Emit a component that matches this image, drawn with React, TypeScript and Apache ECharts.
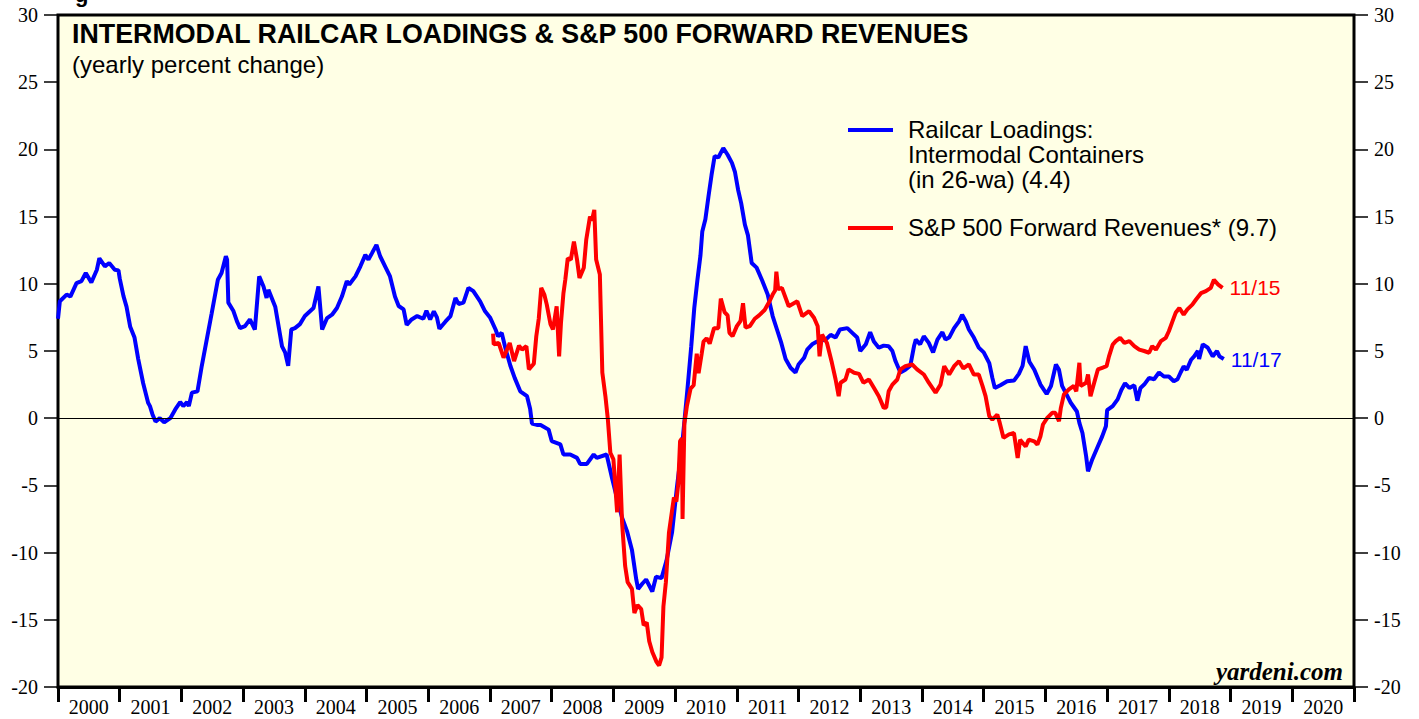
import React, { useEffect, useRef } from "react";
import * as echarts from "echarts";

const YEAR_LABELS = ["2000","2001","2002","2003","2004","2005","2006","2007","2008","2009","2010","2011","2012","2013","2014","2015","2016","2017","2018","2019","2020"];
const X_MIN = 2000;
const X_MAX = 2021;
const Y_MIN = -20;
const Y_MAX = 30;
const Y_STEP = 5;

const RAIL_NAME = "Railcar Loadings: Intermodal Containers (in 26-wa) (4.4)";
const REV_NAME = "S&P 500 Forward Revenues* (9.7)";
const RAIL_END = "11/17";
const REV_END = "11/15";

// Railcar loadings, intermodal containers (26-wa, yearly % change): [year, value]
const RAIL: [number, number][] = [
  [2000.0, 7.4], [2000.03, 8.7], [2000.14, 9.2], [2000.2, 9.05], [2000.3, 10.05], [2000.38, 10.2],
  [2000.45, 10.8], [2000.54, 10.1], [2000.63, 11.05], [2000.67, 11.9], [2000.76, 11.3], [2000.83, 11.55],
  [2000.92, 11.05], [2000.98, 11.0], [2001.0, 10.4], [2001.06, 9.1], [2001.11, 8.3], [2001.17, 6.8],
  [2001.24, 6.0], [2001.3, 4.4], [2001.38, 2.6], [2001.46, 1.15], [2001.49, 0.9], [2001.53, 0.3],
  [2001.58, -0.25], [2001.65, 0.0], [2001.72, -0.3], [2001.82, 0.0], [2001.9, 0.65], [2001.98, 1.2],
  [2002.03, 0.9], [2002.09, 1.2], [2002.12, 0.9], [2002.17, 1.9], [2002.26, 2.0], [2002.33, 3.9],
  [2002.41, 5.85], [2002.49, 7.8], [2002.59, 10.3], [2002.65, 10.8], [2002.72, 12.05], [2002.74, 11.8],
  [2002.76, 8.6], [2002.84, 8.0], [2002.9, 7.2], [2002.95, 6.7], [2003.03, 6.85], [2003.11, 7.35],
  [2003.19, 6.6], [2003.26, 10.55], [2003.33, 9.8], [2003.38, 8.95], [2003.41, 9.55], [2003.52, 8.3],
  [2003.63, 5.35], [2003.68, 4.9], [2003.73, 3.9], [2003.78, 6.6], [2003.84, 6.7], [2003.92, 7.0],
  [2004.0, 7.6], [2004.14, 8.2], [2004.22, 9.8], [2004.28, 6.6], [2004.36, 7.45], [2004.44, 7.7],
  [2004.52, 8.2], [2004.6, 9.05], [2004.68, 10.2], [2004.72, 9.95], [2004.82, 10.55], [2004.9, 11.3],
  [2004.98, 12.15], [2005.03, 11.8], [2005.09, 12.3], [2005.16, 12.9], [2005.22, 12.05], [2005.3, 11.3],
  [2005.38, 10.55], [2005.46, 9.05], [2005.52, 8.35], [2005.6, 8.1], [2005.65, 6.95], [2005.73, 7.35],
  [2005.82, 7.6], [2005.92, 7.4], [2005.97, 8.0], [2006.03, 7.35], [2006.09, 7.95], [2006.14, 7.5],
  [2006.18, 6.65], [2006.28, 7.2], [2006.36, 7.6], [2006.44, 8.95], [2006.49, 8.5], [2006.57, 8.6],
  [2006.65, 9.7], [2006.73, 9.45], [2006.84, 8.7], [2006.92, 7.95], [2007.0, 7.5], [2007.09, 6.6],
  [2007.13, 6.1], [2007.19, 6.35], [2007.25, 5.2], [2007.33, 3.9], [2007.4, 3.0], [2007.49, 2.0],
  [2007.6, 1.64], [2007.65, 0.7], [2007.68, -0.4], [2007.76, -0.5], [2007.82, -0.5], [2007.95, -0.85],
  [2008.0, -1.7], [2008.14, -1.95], [2008.19, -2.7], [2008.3, -2.7], [2008.41, -2.95], [2008.46, -3.4],
  [2008.57, -3.4], [2008.68, -2.7], [2008.73, -2.95], [2008.89, -2.7], [2008.98, -4.5], [2009.06, -6.0],
  [2009.14, -7.4], [2009.22, -8.4], [2009.3, -9.8], [2009.37, -12.0], [2009.4, -12.7], [2009.47, -12.3],
  [2009.53, -12.0], [2009.63, -12.9], [2009.69, -11.8], [2009.78, -11.9], [2009.86, -10.6], [2009.95, -8.5],
  [2010.03, -5.1], [2010.12, -1.7], [2010.2, 2.2], [2010.26, 5.3], [2010.31, 8.2], [2010.36, 10.25],
  [2010.41, 12.1], [2010.44, 13.9], [2010.49, 14.8], [2010.54, 16.5], [2010.59, 18.1], [2010.64, 19.5],
  [2010.7, 19.4], [2010.78, 20.1], [2010.85, 19.6], [2010.92, 19.0], [2010.97, 18.3], [2011.02, 17.0],
  [2011.07, 16.0], [2011.13, 14.4], [2011.18, 13.6], [2011.24, 11.55], [2011.32, 11.2], [2011.41, 10.25],
  [2011.5, 9.2], [2011.58, 7.6], [2011.65, 6.6], [2011.72, 5.6], [2011.79, 4.4], [2011.87, 3.75],
  [2011.95, 3.4], [2012.0, 4.0], [2012.09, 4.5], [2012.14, 5.1], [2012.22, 5.5], [2012.3, 5.7],
  [2012.44, 5.85], [2012.52, 6.2], [2012.6, 6.0], [2012.67, 6.6], [2012.79, 6.7], [2012.87, 6.35],
  [2012.95, 6.0], [2013.0, 5.0], [2013.09, 5.5], [2013.16, 6.4], [2013.22, 5.7], [2013.3, 5.25],
  [2013.38, 5.4], [2013.46, 5.35], [2013.52, 5.0], [2013.57, 4.25], [2013.65, 3.4], [2013.73, 3.6],
  [2013.81, 3.9], [2013.87, 5.35], [2013.9, 5.85], [2013.97, 5.5], [2014.03, 6.1], [2014.11, 5.6],
  [2014.18, 4.9], [2014.25, 5.85], [2014.33, 6.4], [2014.38, 5.85], [2014.44, 6.0], [2014.52, 6.7],
  [2014.6, 7.2], [2014.65, 7.7], [2014.71, 7.2], [2014.76, 6.6], [2014.84, 6.0], [2014.92, 5.25],
  [2015.0, 4.9], [2015.09, 4.1], [2015.14, 3.0], [2015.18, 2.25], [2015.27, 2.45], [2015.38, 2.75],
  [2015.49, 2.8], [2015.57, 3.3], [2015.63, 3.9], [2015.68, 5.36], [2015.74, 4.2], [2015.82, 3.6],
  [2015.92, 2.5], [2016.02, 1.8], [2016.09, 2.4], [2016.17, 4.0], [2016.22, 3.6], [2016.27, 2.4],
  [2016.36, 1.6], [2016.41, 1.15], [2016.51, 0.5], [2016.55, -0.35], [2016.6, -1.1], [2016.66, -2.85],
  [2016.69, -3.95], [2016.76, -3.05], [2016.84, -2.2], [2016.92, -1.35], [2016.98, -0.6], [2017.0, 0.6],
  [2017.09, 0.9], [2017.17, 1.4], [2017.23, 2.1], [2017.29, 2.6], [2017.36, 2.25], [2017.44, 2.45],
  [2017.49, 1.3], [2017.54, 2.25], [2017.6, 2.5], [2017.68, 3.0], [2017.76, 2.9], [2017.84, 3.4],
  [2017.92, 3.1], [2018.0, 3.1], [2018.08, 2.75], [2018.14, 2.9], [2018.19, 3.4], [2018.24, 3.85],
  [2018.29, 3.6], [2018.36, 4.35], [2018.41, 4.6], [2018.47, 5.0], [2018.49, 4.4], [2018.55, 5.5],
  [2018.63, 5.25], [2018.71, 4.6], [2018.78, 5.0], [2018.82, 4.6], [2018.89, 4.4],
];

// S&P 500 forward revenues (yearly % change): [year, value]
const REVENUES: [number, number][] = [
  [2007.05, 6.3], [2007.06, 5.5], [2007.14, 5.6], [2007.22, 4.5], [2007.32, 5.6], [2007.39, 4.25],
  [2007.47, 5.4], [2007.52, 5.1], [2007.59, 5.36], [2007.63, 3.63], [2007.71, 4.05], [2007.75, 6.1],
  [2007.79, 7.4], [2007.83, 9.7], [2007.88, 9.2], [2007.92, 8.45], [2007.98, 7.0], [2008.02, 6.6],
  [2008.08, 8.33], [2008.12, 4.6], [2008.15, 7.1], [2008.19, 9.3], [2008.22, 10.3], [2008.26, 11.9],
  [2008.31, 11.8], [2008.36, 13.15], [2008.41, 11.8], [2008.45, 10.44], [2008.52, 11.2], [2008.56, 13.3],
  [2008.62, 15.0], [2008.65, 14.7], [2008.69, 15.5], [2008.72, 11.8], [2008.78, 10.7], [2008.82, 3.4],
  [2008.87, 1.64], [2008.91, -0.1], [2008.95, -2.57], [2009.0, -3.06], [2009.06, -7.0], [2009.1, -2.7],
  [2009.14, -7.76], [2009.19, -11.0], [2009.23, -12.2], [2009.3, -12.7], [2009.34, -14.5], [2009.39, -13.9],
  [2009.45, -14.2], [2009.49, -15.4], [2009.54, -15.2], [2009.58, -16.6], [2009.63, -17.4], [2009.7, -18.15],
  [2009.74, -18.4], [2009.78, -17.8], [2009.81, -14.0], [2009.85, -12.2], [2009.9, -8.5], [2009.94, -7.2],
  [2009.98, -5.9], [2010.02, -6.2], [2010.05, -4.9], [2010.08, -1.7], [2010.11, -1.5], [2010.12, -7.5],
  [2010.15, -0.4], [2010.19, 0.9], [2010.25, 2.2], [2010.3, 2.45], [2010.35, 4.8], [2010.38, 3.35],
  [2010.43, 4.8], [2010.46, 5.7], [2010.51, 5.95], [2010.56, 5.55], [2010.63, 6.7], [2010.7, 6.7],
  [2010.74, 8.9], [2010.8, 7.9], [2010.85, 7.65], [2010.88, 6.35], [2010.93, 6.1], [2011.0, 6.85],
  [2011.06, 7.25], [2011.1, 8.55], [2011.14, 6.75], [2011.21, 6.85], [2011.29, 7.4], [2011.36, 7.65],
  [2011.45, 8.05], [2011.53, 8.7], [2011.58, 9.2], [2011.62, 9.5], [2011.64, 10.9], [2011.67, 9.6],
  [2011.73, 9.7], [2011.84, 8.33], [2011.98, 8.7], [2012.06, 7.6], [2012.17, 7.96], [2012.25, 7.47],
  [2012.31, 6.84], [2012.34, 4.6], [2012.38, 6.22], [2012.46, 5.6], [2012.54, 4.12], [2012.6, 2.88],
  [2012.65, 1.64], [2012.68, 2.64], [2012.76, 2.88], [2012.81, 3.63], [2012.9, 3.38], [2012.98, 3.3],
  [2013.05, 2.64], [2013.14, 2.88], [2013.22, 2.26], [2013.3, 1.64], [2013.38, 0.77], [2013.42, 0.8],
  [2013.46, 2.0], [2013.52, 2.5], [2013.6, 2.88], [2013.65, 3.63], [2013.73, 3.87], [2013.84, 4.0],
  [2013.92, 3.63], [2014.03, 3.25], [2014.11, 2.64], [2014.22, 1.9], [2014.3, 2.5], [2014.36, 3.87],
  [2014.44, 3.25], [2014.52, 3.87], [2014.6, 4.24], [2014.67, 3.7], [2014.76, 4.0], [2014.84, 3.25],
  [2014.92, 3.25], [2014.98, 2.4], [2015.03, 1.64], [2015.09, 0.15], [2015.14, -0.1], [2015.22, 0.27],
  [2015.26, -0.35], [2015.32, -1.46], [2015.41, -1.2], [2015.49, -1.1], [2015.55, -2.96], [2015.59, -1.6],
  [2015.68, -2.1], [2015.73, -1.6], [2015.82, -1.72], [2015.87, -1.96], [2015.92, -1.34], [2015.96, -0.47],
  [2016.03, 0.02], [2016.11, 0.4], [2016.16, 0.4], [2016.22, -0.23], [2016.25, 0.77], [2016.3, 1.77],
  [2016.38, 2.14], [2016.46, 2.4], [2016.5, 2.0], [2016.55, 4.12], [2016.57, 2.4], [2016.66, 2.64],
  [2016.69, 3.25], [2016.73, 1.64], [2016.79, 2.64], [2016.85, 3.63], [2016.92, 3.75], [2016.99, 3.87],
  [2017.03, 4.6], [2017.09, 5.48], [2017.14, 5.73], [2017.21, 5.98], [2017.28, 5.6], [2017.36, 5.73],
  [2017.44, 5.36], [2017.52, 5.1], [2017.6, 5.0], [2017.68, 4.87], [2017.73, 5.36], [2017.79, 5.1],
  [2017.87, 5.73], [2017.95, 5.98], [2018.0, 6.47], [2018.06, 7.22], [2018.11, 7.84], [2018.17, 8.2],
  [2018.24, 7.71], [2018.3, 8.1], [2018.38, 8.45], [2018.44, 8.83], [2018.52, 9.3], [2018.6, 9.45],
  [2018.68, 9.7], [2018.73, 10.3], [2018.8, 9.94], [2018.87, 9.7],
];

const SANS = '"Liberation Sans", Arial, sans-serif';
const SERIF = '"Liberation Serif", "Times New Roman", serif';
const BLUE = "#0000ff";
const RED = "#ff0000";

export default function App() {
  const ref = useRef<HTMLDivElement>(null);

  useEffect(() => {
    if (!ref.current) return;
    const chart = echarts.init(ref.current, null, { renderer: "svg" });

    const yAxisBase = {
      type: "value",
      min: Y_MIN,
      max: Y_MAX,
      interval: Y_STEP,
      axisLine: { show: false, onZero: false },
      axisTick: { show: true, inside: false, length: 14, lineStyle: { color: "#000", width: 1.5 } },
      axisLabel: { color: "#000", fontFamily: SERIF, fontSize: 20, margin: 20 },
      splitLine: { show: false },
    };

    chart.setOption({
      animation: false,
      backgroundColor: "#ffffff",
      grid: {
        left: 58,
        right: 65,
        top: 15,
        bottom: 32,
        show: true,
        backgroundColor: "#ffffe5",
        borderColor: "#000",
        borderWidth: 3,
      },
      xAxis: [
        {
          type: "value",
          min: X_MIN,
          max: X_MAX,
          interval: 1,
          position: "bottom",
          axisLine: { show: true, onZero: false, lineStyle: { color: "#000", width: 3 } },
          axisTick: { show: true, inside: false, length: 15, lineStyle: { color: "#000", width: 3 } },
          axisLabel: { show: false },
          splitLine: { show: false },
        },
        {
          type: "category",
          data: YEAR_LABELS,
          boundaryGap: true,
          position: "bottom",
          axisLine: { show: false, onZero: false },
          axisTick: { show: false },
          axisLabel: { interval: 0, color: "#000", fontFamily: SERIF, fontSize: 20, margin: 10 },
          splitLine: { show: false },
        },
      ],
      yAxis: [
        { ...yAxisBase, position: "left" },
        { ...yAxisBase, position: "right" },
      ],
      series: [
        {
          name: RAIL_NAME,
          type: "line",
          xAxisIndex: 0,
          yAxisIndex: 0,
          data: RAIL,
          showSymbol: false,
          lineStyle: { color: BLUE, width: 4 },
          itemStyle: { color: BLUE },
          endLabel: {
            show: true,
            formatter: RAIL_END,
            color: BLUE,
            fontFamily: SANS,
            fontSize: 21,
            distance: 7,
          },
          markLine: {
            silent: true,
            symbol: "none",
            label: { show: false },
            lineStyle: { color: "#000", width: 1.2, type: "solid" },
            data: [{ yAxis: 0 }],
          },
          z: 3,
        },
        {
          name: REV_NAME,
          type: "line",
          xAxisIndex: 0,
          yAxisIndex: 0,
          data: REVENUES,
          showSymbol: false,
          lineStyle: { color: RED, width: 4 },
          itemStyle: { color: RED },
          endLabel: {
            show: true,
            formatter: REV_END,
            color: RED,
            fontFamily: SANS,
            fontSize: 21,
            distance: 7,
          },
          z: 4,
        },
      ],
      graphic: [
        {
          type: "text",
          left: 75,
          top: -17,
          style: { text: "g", font: `bold 22px ${SANS}`, fill: "#000" },
        },
        {
          type: "text",
          left: 72,
          top: 20,
          style: {
            text: "INTERMODAL RAILCAR LOADINGS & S&P 500 FORWARD REVENUES",
            font: `bold 26.8px ${SANS}`,
            fill: "#000",
          },
        },
        {
          type: "text",
          left: 72,
          top: 52,
          style: { text: "(yearly percent change)", font: `24px ${SANS}`, fill: "#000" },
        },
        {
          type: "line",
          shape: { x1: 848, y1: 130, x2: 893, y2: 130 },
          style: { stroke: BLUE, lineWidth: 4 },
        },
        {
          type: "text",
          left: 908,
          top: 117,
          style: {
            text: "Railcar Loadings:\nIntermodal Containers\n(in 26-wa) (4.4)",
            font: `24px ${SANS}`,
            lineHeight: 25,
            fill: "#000",
          },
        },
        {
          type: "line",
          shape: { x1: 848, y1: 228, x2: 893, y2: 228 },
          style: { stroke: RED, lineWidth: 4 },
        },
        {
          type: "text",
          left: 908,
          top: 215,
          style: { text: REV_NAME, font: `24px ${SANS}`, lineHeight: 25, fill: "#000" },
        },
        {
          type: "text",
          right: 1419 - 1343,
          top: 659,
          style: { text: "yardeni.com", font: `italic bold 25px ${SERIF}`, fill: "#000" },
        },
      ],
    });

    return () => chart.dispose();
  }, []);

  return (
    <div
      ref={ref}
      style={{ position: "fixed", left: 0, top: 0, width: 1419, height: 719 }}
    />
  );
}
